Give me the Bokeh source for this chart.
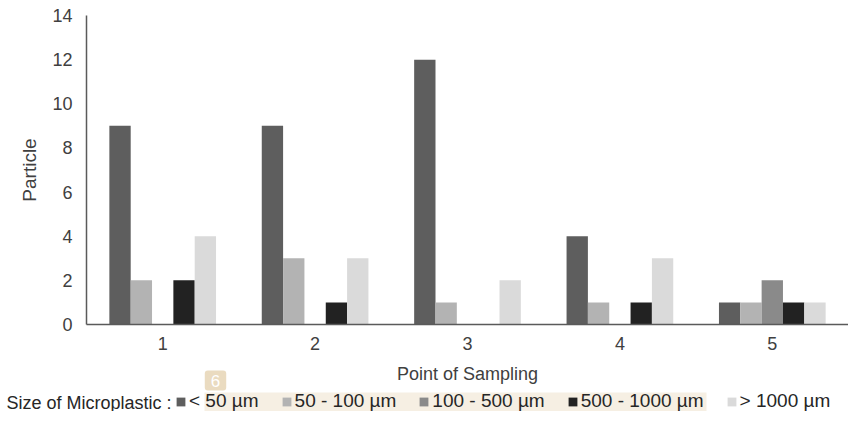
from bokeh.plotting import figure
from bokeh.layouts import column
from bokeh.models import (Range1d, FixedTicker, ColumnDataSource, Legend, LegendItem,
                          Label, BoxAnnotation)
from bokeh.transform import dodge
from bokeh.embed import file_html
from bokeh.resources import INLINE

# ---- data ----
points = [1, 2, 3, 4, 5]
size_lt50 = [9, 9, 12, 4, 1]
size_50_100 = [2, 3, 1, 1, 1]
size_100_500 = [0, 0, 0, 0, 2]
size_500_1000 = [2, 1, 0, 1, 1]
size_gt1000 = [4, 3, 2, 3, 1]
series_labels = ["< 50 µm", "50 - 100 µm", "100 - 500 µm", "500 - 1000 µm", "> 1000 µm"]
series_colors = ["#5e5e5e", "#b3b3b3", "#8a8a8a", "#222222", "#dadada"]
y_ticks = [0, 2, 4, 6, 8, 10, 12, 14]
x_title = "Point of Sampling"
y_title = "Particle"
legend_title_text = "Size of Microplastic :"

FONT = "Liberation Sans"
TXT = "#404040"
W = 848
H1 = 358
H2 = 53

source = ColumnDataSource(dict(point=points, s0=size_lt50, s1=size_50_100,
                               s2=size_100_500, s3=size_500_1000, s4=size_gt1000))
fields = ["s0", "s1", "s2", "s3", "s4"]
bw = 0.14

p = figure(width=W, height=H1, output_backend="svg", toolbar_location=None,
           x_range=Range1d(0.5, 5.5), y_range=Range1d(0, 14),
           min_border_left=86, min_border_right=0, min_border_top=15, min_border_bottom=34)
p.outline_line_color = None
p.grid.visible = False

for k, fld in enumerate(fields):
    p.vbar(x=dodge("point", (k - 2) * bw, range=p.x_range), top=fld, width=bw,
           source=source, fill_color=series_colors[k], line_color=None)

xa = p.xaxis[0]
xa.ticker = FixedTicker(ticks=points)
ya = p.yaxis[0]
ya.ticker = FixedTicker(ticks=y_ticks)
ya.axis_label = y_title
for ax in (xa, ya):
    ax.major_tick_line_color = None
    ax.minor_tick_line_color = None
    ax.major_tick_in = 0
    ax.major_tick_out = 0
    ax.minor_tick_in = 0
    ax.minor_tick_out = 0
    ax.axis_line_color = "#5a5a5a"
    ax.axis_line_width = 1.5
    ax.major_label_text_font = FONT
    ax.major_label_text_font_size = "18px"
    ax.major_label_text_color = TXT
    ax.axis_label_text_font = FONT
    ax.axis_label_text_font_size = "19px"
    ax.axis_label_text_font_style = "normal"
    ax.axis_label_text_color = TXT
xa.major_label_standoff = 12
ya.major_label_standoff = 14
ya.axis_label_standoff = 9

# ---- lower strip: x-axis title and legend ----
q = figure(width=W, height=H2, output_backend="svg", toolbar_location=None,
           x_range=Range1d(-2, -1), y_range=Range1d(0, 1),
           x_axis_location=None, y_axis_location=None,
           min_border_left=0, min_border_right=0, min_border_top=0, min_border_bottom=0)
q.outline_line_color = None
q.grid.visible = False
for fig in (p, q):
    if "frame_align" in fig.properties():
        fig.frame_align = False

hl = BoxAnnotation(left=204, right=706, top=19, bottom=0,
                   left_units="screen", right_units="screen",
                   top_units="screen", bottom_units="screen",
                   fill_color="#f6efe3", fill_alpha=1.0, line_color=None)
q.add_layout(hl)

q.add_layout(Label(x=467, y=38, x_units="screen", y_units="screen", text=x_title,
                   text_align="center", text_baseline="middle", text_font=FONT,
                   text_font_size="18px", text_color=TXT))

q.add_layout(Label(x=215, y=31, x_units="screen", y_units="screen", text="6",
                   text_align="center", text_baseline="middle", text_color="white",
                   text_font=FONT, text_font_size="17px",
                   background_fill_color="#eadbc0", background_fill_alpha=1.0,
                   padding=(6, 4), border_radius=3))

q.add_layout(Label(x=6, y=9, x_units="screen", y_units="screen", text=legend_title_text,
                   text_align="left", text_baseline="middle", text_font=FONT,
                   text_font_size="18px", text_color="#262626"))

# same series drawn in the strip (outside its visible x range) so the legend can show them
legend_renderers = []
for k, fld in enumerate(fields):
    legend_renderers.append(q.vbar(x=dodge("point", (k - 2) * bw, range=q.x_range), top=fld,
                                   width=bw, source=source, fill_color=series_colors[k],
                                   line_color=None))

legend = Legend(items=[LegendItem(label=series_labels[k], renderers=[legend_renderers[k]])
                       for k in range(5)],
                orientation="horizontal", location=(175, -1),
                glyph_width=11, glyph_height=11, label_standoff=3, spacing=22,
                padding=0, margin=0, label_text_font=FONT, label_text_font_size="19px",
                label_text_color="#262626", background_fill_alpha=0, border_line_alpha=0)
q.add_layout(legend)

layout = column(p, q, spacing=0)
open("out.html", "w").write(file_html(layout, INLINE))
